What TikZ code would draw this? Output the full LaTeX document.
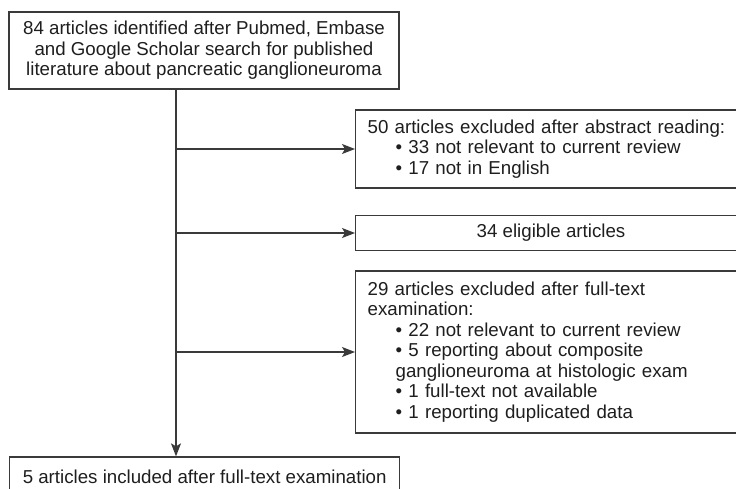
\documentclass[tikz,border=0pt]{standalone}
\usepackage{fontspec}
\setmainfont{Liberation Sans}
\usetikzlibrary{arrows.meta}
\definecolor{linec}{HTML}{3A3A3A}
\definecolor{textc}{HTML}{1E1E1E}
\begin{document}
\begin{tikzpicture}[x=1pt,y=-1pt,
  txt/.style={text=textc,font=\fontsize{18.7}{20.5}\selectfont},
  box/.style={txt,draw=linec,line width=1.3pt,inner xsep=0pt,inner ysep=0pt},
  conn/.style={draw=linec,line width=1.3pt},
  arr/.style={conn,-{Stealth[length=13pt,width=10pt,inset=3pt]}}]
\useasboundingbox (0,0) rectangle (736,488);
\node[box,minimum width=390pt,minimum height=77pt,align=center] (top) at (204,50.5)
  {84 articles identified after Pubmed, Embase\\and Google Scholar search for published\\literature about pancreatic ganglioneuroma};
\node[box,anchor=west,minimum width=420pt,minimum height=78pt,text width=396pt,align=left] (b1) at (355,149)
  {50 articles excluded after abstract reading:\\
   \hspace*{28pt}\textbullet\ 33 not relevant to current review\\
   \hspace*{28pt}\textbullet\ 17 not in English};
\node[box,anchor=west,minimum width=420pt,minimum height=35pt] (b2) at (355,233) {};
\node[txt] (b2t) at (551,233) {34 eligible articles};
\node[box,anchor=west,minimum width=420pt,minimum height=162pt,text width=396pt,align=left] (b3) at (355,352)
  {29 articles excluded after full-text\\
   examination:\\
   \hspace*{28pt}\textbullet\ 22 not relevant to current review\\
   \hspace*{28pt}\textbullet\ 5 reporting about composite\\
   \hspace*{28pt}ganglioneuroma at histologic exam\\
   \hspace*{28pt}\textbullet\ 1 full-text not available\\
   \hspace*{28pt}\textbullet\ 1 reporting duplicated data};
\node[box,anchor=base west,minimum width=390pt,
      text height=26.7pt,text depth=30pt] (bot) at (9,483.7)
  {5 articles included after full-text examination};
\coordinate (v) at (176,0);
\draw[arr] (v |- top.south) -- (v |- bot.north);
\draw[arr] (v |- b1.west) -- (b1.west);
\draw[arr] (v |- b2.west) -- (b2.west);
\draw[arr] (v |- b3.west) -- (b3.west);
\end{tikzpicture}
\end{document}
